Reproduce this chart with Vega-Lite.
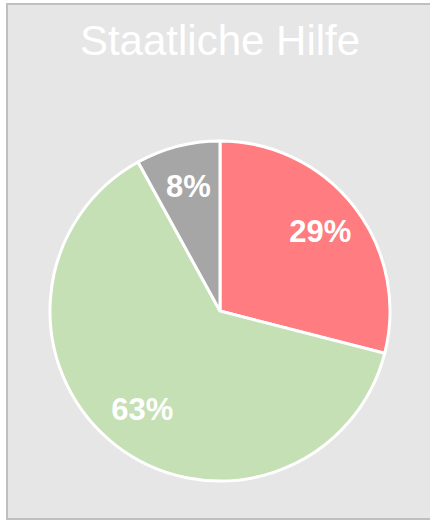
{
  "$schema": "https://vega.github.io/schema/vega-lite/v6.json",
  "autosize": "none",
  "padding": {"left": 7, "top": 4, "right": 0, "bottom": 1},
  "width": 426,
  "height": 515,
  "background": "#ffffff",
  "view": {"fill": "#e6e6e6", "stroke": "#bfbfbf", "strokeWidth": 2},
  "title": {
    "text": "Staatliche Hilfe",
    "font": "Liberation Sans",
    "fontSize": 42,
    "fontWeight": "normal",
    "color": "#ffffff",
    "anchor": "middle",
    "frame": "group",
    "baseline": "alphabetic",
    "offset": 0,
    "dy": 93
  },
  "data": {
    "values": [
      {"Kategorie": "Ja", "Anteil": 0.29, "Reihenfolge": 1},
      {"Kategorie": "Nein", "Anteil": 0.63, "Reihenfolge": 2},
      {"Kategorie": "Weiß nicht", "Anteil": 0.08, "Reihenfolge": 3}
    ]
  },
  "encoding": {
    "theta": {"field": "Anteil", "type": "quantitative", "stack": true},
    "order": {"field": "Reihenfolge", "type": "quantitative"}
  },
  "layer": [
    {
      "mark": {
        "type": "arc",
        "outerRadius": 170,
        "stroke": "#ffffff",
        "strokeWidth": 3,
        "x": 213,
        "y": 307
      },
      "encoding": {
        "color": {
          "field": "Kategorie",
          "type": "nominal",
          "scale": {"domain": ["Ja", "Nein", "Weiß nicht"], "range": ["#ff7c80", "#c5e0b4", "#a6a6a6"]},
          "legend": null
        }
      }
    },
    {
      "mark": {
        "type": "text",
        "radius": 127,
        "font": "Liberation Sans",
        "fontSize": 31,
        "fontWeight": "bold",
        "color": "#ffffff",
        "align": "center",
        "baseline": "middle",
        "x": 213,
        "y": 307
      },
      "encoding": {
        "text": {"field": "Anteil", "type": "quantitative", "format": ".0%"}
      }
    }
  ]
}
